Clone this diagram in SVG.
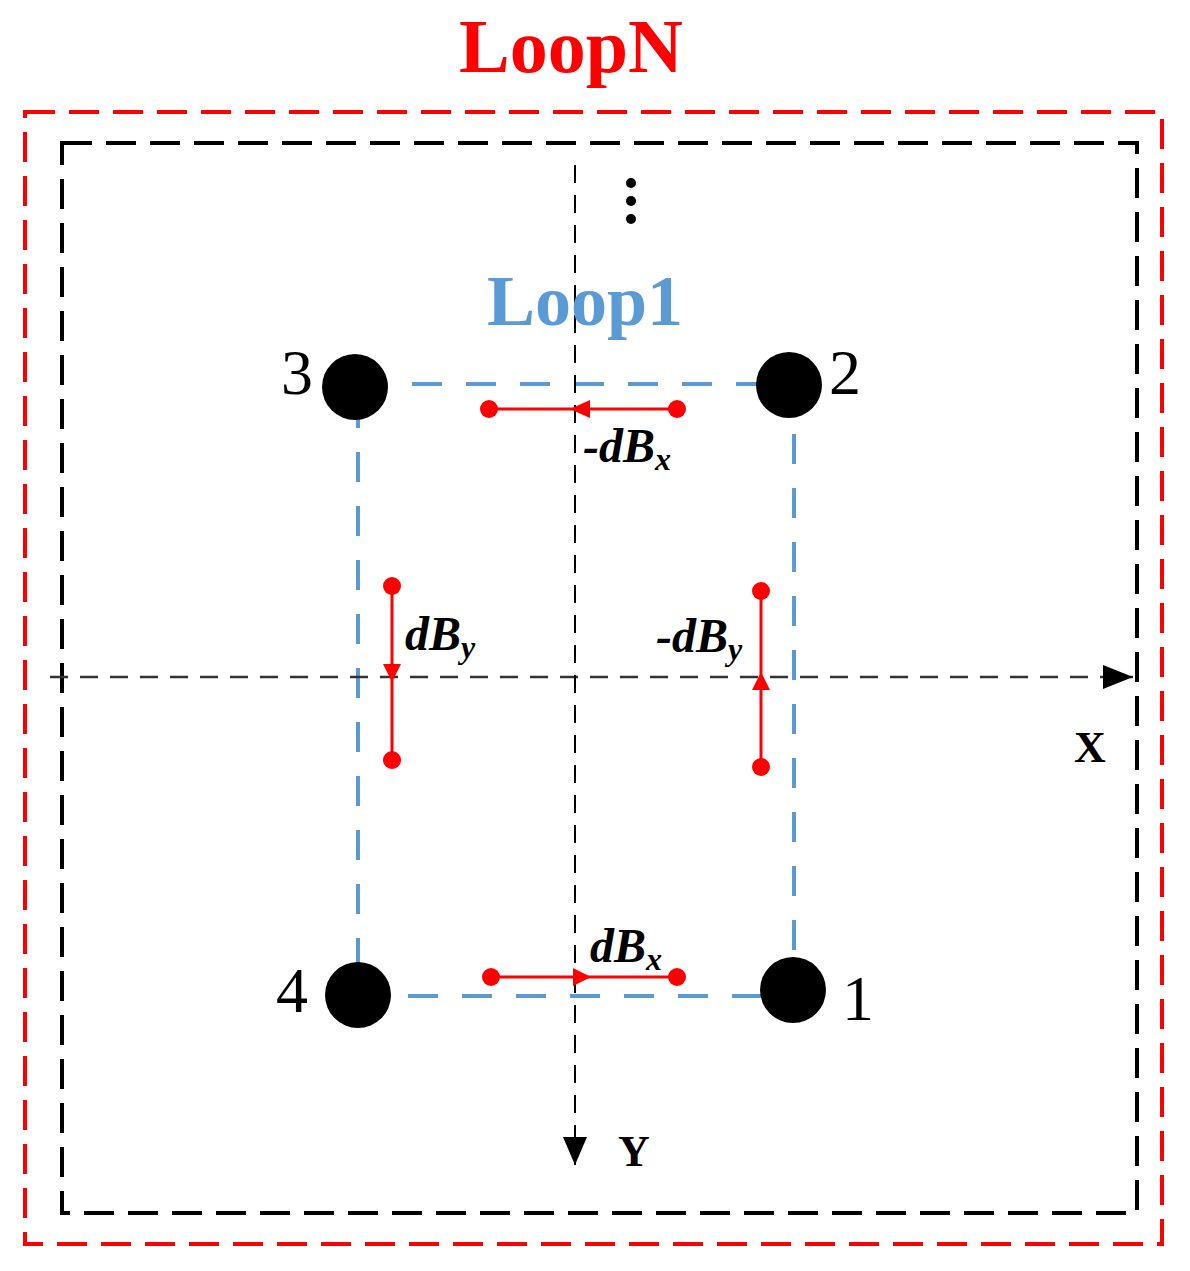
<svg xmlns="http://www.w3.org/2000/svg" width="1190" height="1271" viewBox="0 0 1190 1271">
<style>
.t{font-family:"Liberation Serif",serif}
.b{font-family:"Liberation Serif",serif;font-weight:bold}
.i{font-family:"Liberation Serif",serif;font-weight:bold;font-style:italic;font-size:48px}
.r{stroke:#f00;stroke-width:3;fill:none}
</style>
<rect x="25" y="112" width="1137" height="1132" fill="none" stroke="#f00" stroke-width="4" stroke-dasharray="30,14"/>
<rect x="62" y="143" width="1075" height="1070" fill="none" stroke="#000" stroke-width="4" stroke-dasharray="30,14"/>
<rect x="358" y="384" width="436" height="612" fill="none" stroke="#5b9bd5" stroke-width="4" stroke-dasharray="30,24"/>
<g id="connectors">
<line x1="50" y1="677" x2="1133" y2="677" stroke="#333" stroke-width="2.5" stroke-dasharray="18,12"/>
<path d="M1103,665L1133,677L1103,689z" fill="#000"/>
<line x1="575" y1="165" x2="575" y2="1165" stroke="#000" stroke-width="2" stroke-dasharray="18,12"/>
<path d="M563,1137L575,1165L587,1137z" fill="#000"/>
<g fill="#000"><circle cx="631" cy="183" r="5"/><circle cx="631" cy="201" r="5"/><circle cx="631" cy="219" r="5"/></g>
<g fill="#f00">
<circle cx="489" cy="409" r="9"/><circle cx="677" cy="409" r="9"/>
<circle cx="392" cy="586" r="9"/><circle cx="392" cy="760" r="9"/>
<circle cx="761" cy="591" r="9"/><circle cx="761" cy="767" r="9"/>
<circle cx="491" cy="977" r="9"/><circle cx="677" cy="977" r="9"/>
</g>
<path class="r" d="M677,409L489,409"/>
<path d="M570,409L590,400L590,418z" fill="#f00"/>
<path class="r" d="M392,586L392,760"/>
<path d="M383,664L392,682L401,664z" fill="#f00"/>
<path class="r" d="M761,767L761,591"/>
<path d="M752,690L761,672L770,690z" fill="#f00"/>
<path class="r" d="M491,977L677,977"/>
<path d="M573,968L591,977L573,986z" fill="#f00"/>
</g>
<g id="n3"><circle cx="355" cy="387" r="33"/><text class="t" x="297" y="394" font-size="64" text-anchor="middle">3</text></g>
<g id="n2"><circle cx="789" cy="385" r="33"/><text class="t" x="845" y="394" font-size="64" text-anchor="middle">2</text></g>
<g id="n4"><circle cx="358" cy="995" r="33"/><text class="t" x="292" y="1012" font-size="64" text-anchor="middle">4</text></g>
<g id="n1"><circle cx="793" cy="990" r="33"/><text class="t" x="858" y="1020" font-size="64" text-anchor="middle">1</text></g>
<text class="b" x="571" y="72" font-size="76" fill="#f00" text-anchor="middle">LoopN</text>
<text class="b" x="585" y="325" font-size="72" fill="#5b9bd5" text-anchor="middle">Loop1</text>
<text class="b" x="1090" y="762" font-size="44" text-anchor="middle">X</text>
<text class="b" x="634" y="1166" font-size="44" text-anchor="middle">Y</text>
<text class="i" x="583" y="462">-dB<tspan font-size="32" dy="8">x</tspan></text>
<text class="i" x="405" y="650">dB<tspan font-size="32" dy="8">y</tspan></text>
<text class="i" x="656" y="652">-dB<tspan font-size="32" dy="8">y</tspan></text>
<text class="i" x="590" y="962">dB<tspan font-size="32" dy="8">x</tspan></text>
</svg>
